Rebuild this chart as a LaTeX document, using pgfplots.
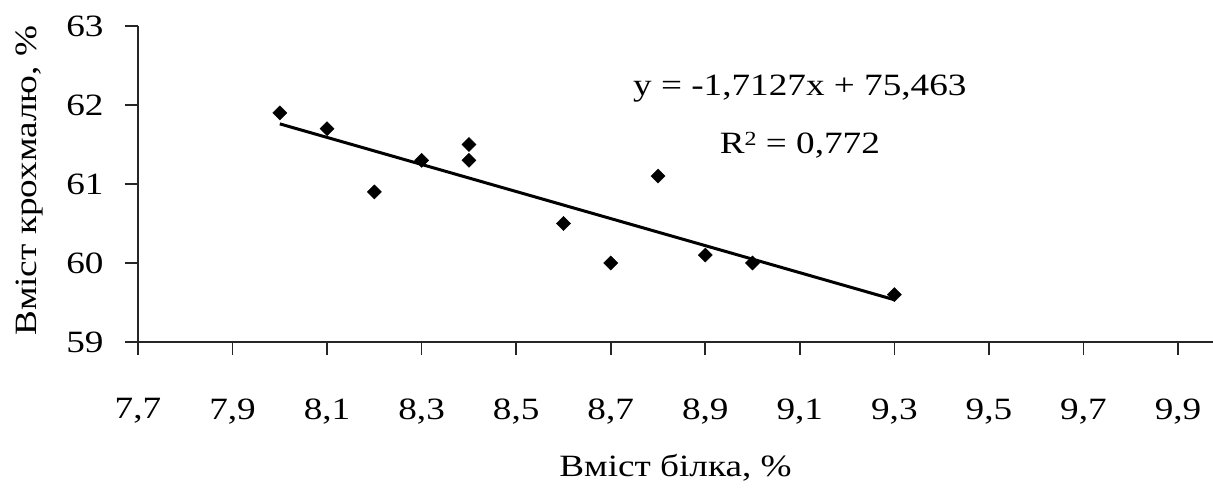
\documentclass[border=0pt]{standalone}
\usepackage{pgfplots}
\pgfplotsset{compat=1.18}
\usepackage{fontspec}
\setmainfont{Liberation Serif}[FakeStretch=1.2]
\begin{document}
\begin{tikzpicture}
\useasboundingbox (-138pt,-146pt) rectangle (1075pt,342pt);
\begin{axis}[
  scale only axis,
  width=1075pt, height=316pt,
  at={(0pt,0pt)}, anchor=south west,
  xmin=7.7, xmax=9.974, ymin=59, ymax=63,
  axis lines*=left,
  axis line style={line width=1.6pt, color=black!85},
  xtick={7.7,7.9,8.1,8.3,8.5,8.7,8.9,9.1,9.3,9.5,9.7,9.9},
  ytick={59,60,61,62,63},
  tick align=outside,
  major tick length=13pt,
  tick style={line width=1.6pt, color=black!85},
  font=\fontsize{31}{37}\selectfont,
  /pgf/number format/assume math mode=true,
  xticklabel style={/pgf/number format/.cd, use comma, fixed, fixed zerofill, precision=1, /tikz/.cd, yshift=-40pt},
  yticklabel style={/pgf/number format/.cd, fixed, precision=0, /tikz/.cd, xshift=-18pt},
  xlabel={Вміст білка, \%},
  ylabel={Вміст крохмалю, \%},
  every axis x label/.style={at={(axis description cs:0.5,0)}, anchor=center, yshift=-126pt},
  every axis y label/.style={at={(axis description cs:-0.1005,0.51)}, anchor=center, rotate=90},
  clip=false,
]
\addplot[only marks, mark=square*, mark size=5pt, mark options={rotate=45, fill=black, draw=black}] coordinates {
(8.0,61.9) (8.1,61.7) (8.2,60.9) (8.3,61.3) (8.4,61.5) (8.4,61.3)
(8.6,60.5) (8.7,60.0) (8.8,61.1) (8.9,60.1) (9.0,60.0) (9.3,59.6)
};
\addplot[line width=3pt, black, no marks] coordinates {(8.0,61.761) (9.3,59.535)};
\node[anchor=center] at (axis cs:9.10,62.21) {y = -1,7127x + 75,463};
\node[anchor=center] at (axis cs:9.10,61.49) {R\raisebox{0.55ex}{\fontsize{20}{24}\selectfont 2} = 0,772};
\end{axis}
\end{tikzpicture}
\end{document}
